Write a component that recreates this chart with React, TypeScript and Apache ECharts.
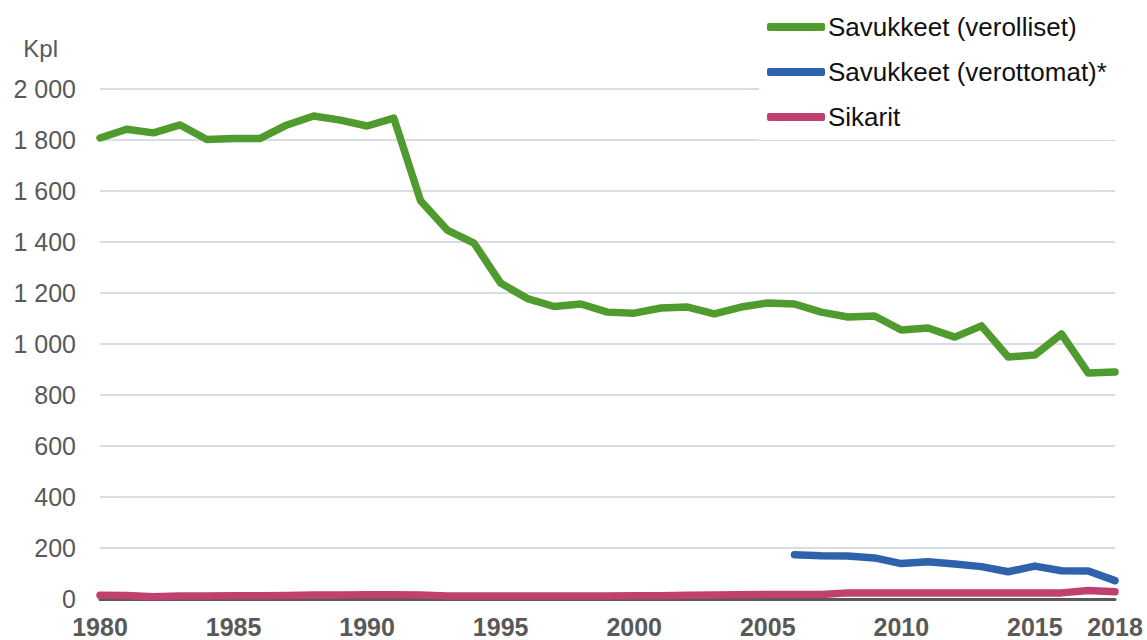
import React, { useEffect, useRef } from "react";
import * as echarts from "echarts";

const years: string[] = [];
for (let y = 1980; y <= 2018; y++) years.push(String(y));

const verolliset = [
  1808, 1842, 1828, 1859, 1802, 1806, 1806, 1859, 1894, 1878,
  1855, 1886, 1562, 1447, 1396, 1239, 1178, 1147, 1157, 1125,
  1121, 1141, 1145, 1118, 1145, 1161, 1157, 1125, 1106, 1110,
  1055, 1063, 1027, 1071, 949, 957, 1039, 886, 890,
];

const verottomat: (number | null)[] = [
  null, null, null, null, null, null, null, null, null, null,
  null, null, null, null, null, null, null, null, null, null,
  null, null, null, null, null, null, 174, 170, 169, 161,
  139, 146, 137, 127, 107, 129, 111, 110, 72,
];

const sikarit = [
  15, 14, 9, 12, 12, 13, 13, 14, 16, 16,
  17, 17, 16, 12, 12, 12, 12, 12, 12, 12,
  13, 13, 15, 16, 17, 18, 18, 18, 24, 24,
  24, 24, 24, 24, 24, 24, 24, 33, 28,
];

const yTicks = [0, 200, 400, 600, 800, 1000, 1200, 1400, 1600, 1800, 2000];

const GREEN = "#4f9b2d";
const BLUE = "#2f62ad";
const PINK = "#c0406f";

export default function App() {
  const ref = useRef<HTMLDivElement>(null);
  useEffect(() => {
    if (!ref.current) return;
    const chart = echarts.init(ref.current, null, { renderer: "svg" });
    const lineStyle = (c: string) => ({ color: c, width: 7.5, cap: "round", join: "round" });
    chart.setOption({
      animation: false,
      backgroundColor: "#ffffff",
      textStyle: { fontFamily: "Liberation Sans, Arial, sans-serif" },
      grid: {
        left: 100,
        right: 32,
        top: 89,
        bottom: 41,
        containLabel: false,
        outerBoundsMode: "none",
      },
      legend: {
        orient: "vertical",
        left: 759,
        top: 8,
        itemWidth: 58,
        itemHeight: 8,
        itemGap: 19,
        icon: "roundRect",
        backgroundColor: "#ffffff",
        padding: [6, 10, 10, 8],
        textStyle: { fontSize: 26, lineHeight: 26, color: "#111111", padding: [0, 0, 0, -2] },
        data: ["Savukkeet (verolliset)", "Savukkeet (verottomat)*", "Sikarit"],
      },
      xAxis: {
        type: "category",
        data: years,
        boundaryGap: false,
        axisLine: { show: true, lineStyle: { color: "#595959", width: 3 } },
        axisTick: { show: false },
        axisLabel: {
          interval: (i: number) => i % 5 === 0 || i === years.length - 1,
          fontSize: 25,
          lineHeight: 25,
          fontWeight: "bold",
          color: "#595959",
          margin: 15,
        },
        splitLine: { show: false },
      },
      yAxis: {
        type: "value",
        min: yTicks[0],
        max: yTicks[yTicks.length - 1],
        interval: 200,
        name: "Kpl",
        nameLocation: "end",
        nameGap: 29,
        nameTextStyle: { fontSize: 24, color: "#595959", align: "right", padding: [0, 42, 0, 0] },
        axisLine: { show: false },
        axisTick: { show: false },
        axisLabel: {
          fontSize: 25,
          color: "#595959",
          margin: 24,
          formatter: (v: number) => String(v).replace(/\B(?=(\d{3})+(?!\d))/g, " "),
        },
        splitLine: { lineStyle: { color: "#d9dde3", width: 2 } },
      },
      series: [
        {
          name: "Savukkeet (verolliset)",
          type: "line",
          data: verolliset,
          symbol: "none",
          color: GREEN,
          lineStyle: lineStyle(GREEN),
          z: 3,
        },
        {
          name: "Savukkeet (verottomat)*",
          type: "line",
          data: verottomat,
          symbol: "none",
          color: BLUE,
          lineStyle: lineStyle(BLUE),
          z: 3,
        },
        {
          name: "Sikarit",
          type: "line",
          data: sikarit,
          symbol: "none",
          color: PINK,
          lineStyle: lineStyle(PINK),
          z: 4,
        },
      ],
    });
    return () => chart.dispose();
  }, []);
  return <div ref={ref} style={{ width: 1147, height: 640, position: "absolute", left: 0, top: 0 }} />;
}
